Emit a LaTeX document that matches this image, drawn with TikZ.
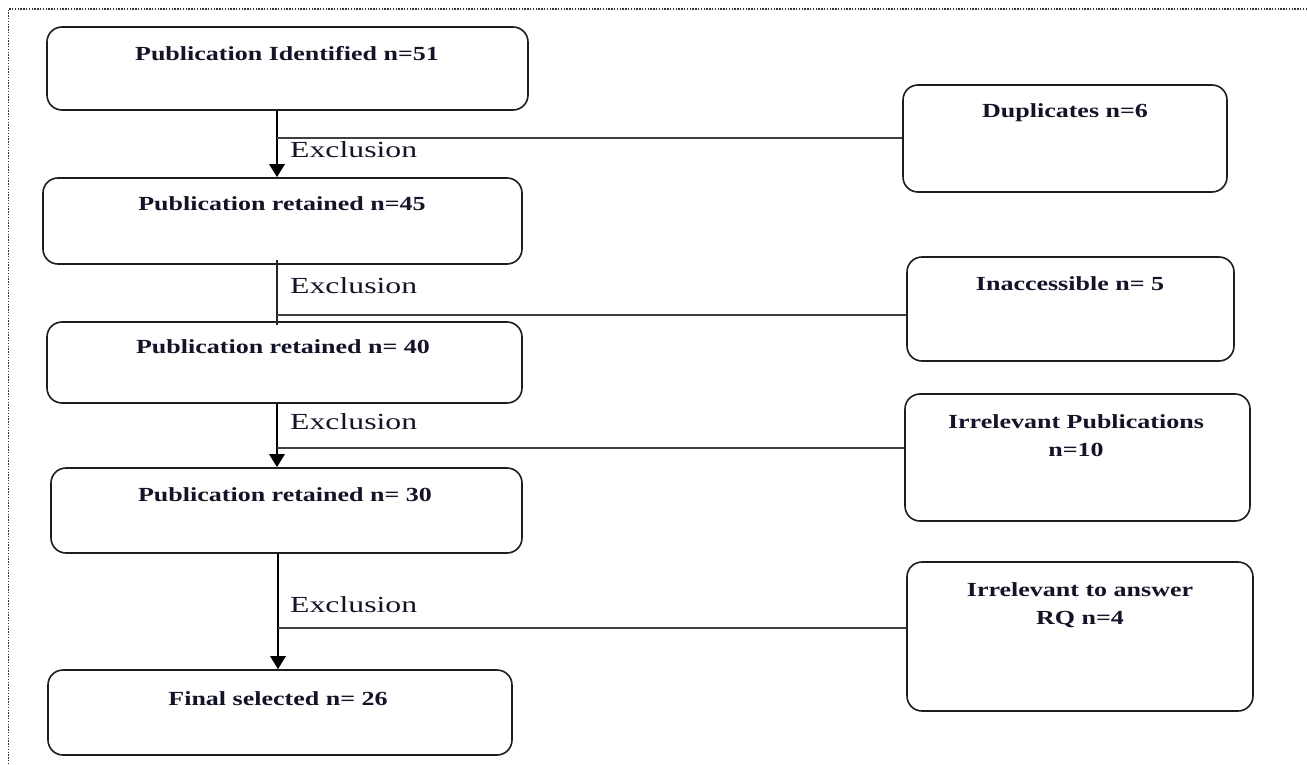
\documentclass[tikz,border=0pt]{standalone}
\usepackage{fontspec}
\setmainfont{Liberation Serif}
\usetikzlibrary{arrows.meta}
\definecolor{ink}{RGB}{20,20,40}
\definecolor{edge}{RGB}{30,30,30}
\newcommand\widetxt[1]{\scalebox{1.3}[1]{#1}}
\newcommand\wideex[1]{\scalebox{1.38}[1]{#1}}
\begin{document}
\begin{tikzpicture}[x=1pt,y=-1pt,
  box/.style={draw=edge,line width=1.6pt,rounded corners=15pt,fill=white,inner sep=0pt},
  boxlbl/.style={text=ink,font=\fontsize{20}{28}\selectfont\bfseries,inner sep=0pt},
  exlbl/.style={text=ink,font=\fontsize{23}{27}\selectfont,anchor=west,inner sep=0pt},
  flow/.style={line width=2.9pt,draw=black,-{Triangle[length=13pt,width=15pt]}},
  thinflow/.style={line width=1.6pt,draw=black!85},
  branch/.style={line width=1.3pt,draw=black!75},
  frame/.style={line width=1.7pt,draw=black!80,dash pattern=on 1.4pt off 1.4pt}]
\useasboundingbox (0,0) rectangle (1307,765);
\draw[frame] (1307,9) -- (8.5,9) -- (8.5,765);

% left column boxes
\node[box,minimum width=481pt,minimum height=83pt] (b1) at (287.5,68.5) {};
\node[box,minimum width=479pt,minimum height=86pt] (b2) at (282.5,221) {};
\node[box,minimum width=475pt,minimum height=81pt] (b3) at (284.5,362.5) {};
\node[box,minimum width=471pt,minimum height=85pt] (b4) at (286.5,510.5) {};
\node[box,minimum width=464pt,minimum height=85pt] (b5) at (280,712.5) {};

% right column boxes
\node[box,minimum width=324pt,minimum height=107pt] (d1) at (1065,138.5) {};
\node[box,minimum width=327pt,minimum height=104pt] (d2) at (1070.5,309) {};
\node[box,minimum width=345pt,minimum height=127pt] (d3) at (1077.5,457.5) {};
\node[box,minimum width=346pt,minimum height=149pt] (d4) at (1080,636.5) {};

% box labels
\node[boxlbl] (t1) at (287,54) {\widetxt{Publication Identified n=51}};
\node[boxlbl] (t2) at (282,204) {\widetxt{Publication retained n=45}};
\node[boxlbl] (t3) at (283,347) {\widetxt{Publication retained n= 40}};
\node[boxlbl] (t4) at (285,495) {\widetxt{Publication retained n= 30}};
\node[boxlbl] (t5) at (278,699) {\widetxt{Final selected n= 26}};
\node[boxlbl] (s1) at (1065,113) {\widetxt{Duplicates n=6}};
\node[boxlbl] (s2) at (1070,284) {\widetxt{Inaccessible n= 5}};
\node[boxlbl] (s3) at (1076,437) {\widetxt{\begin{tabular}{@{}c@{}}Irrelevant Publications\\ n=10\end{tabular}}};
\node[boxlbl] (s4) at (1080,605) {\widetxt{\begin{tabular}{@{}c@{}}Irrelevant to answer\\ RQ n=4\end{tabular}}};

% junctions
\coordinate (j1) at (277,138);
\coordinate (j2) at (277,315);
\coordinate (j3) at (277,448);
\coordinate (j4) at (278,628);

% main flow
\draw[flow] (b1.south -| j1) -- (b2.north -| j1);
\draw[thinflow] ([yshift=5pt]b2.south -| j2) -- ([yshift=-4pt]b3.north -| j2);
\draw[flow] (b3.south -| j3) -- (b4.north -| j3);
\draw[flow] (b4.south -| j4) -- (b5.north -| j4);

% exclusion branches
\draw[branch] (j1) -- (j1 -| d1.west);
\draw[branch] (j2) -- (j2 -| d2.west);
\draw[branch] (j3) -- (j3 -| d3.west);
\draw[branch] (j4) -- (j4 -| d4.west);

% exclusion labels
\node[exlbl] (e1) at (290,150) {\wideex{Exclusion}};
\node[exlbl] (e2) at (290,286) {\wideex{Exclusion}};
\node[exlbl] (e3) at (290,422) {\wideex{Exclusion}};
\node[exlbl] (e4) at (290,605) {\wideex{Exclusion}};
\end{tikzpicture}
\end{document}
